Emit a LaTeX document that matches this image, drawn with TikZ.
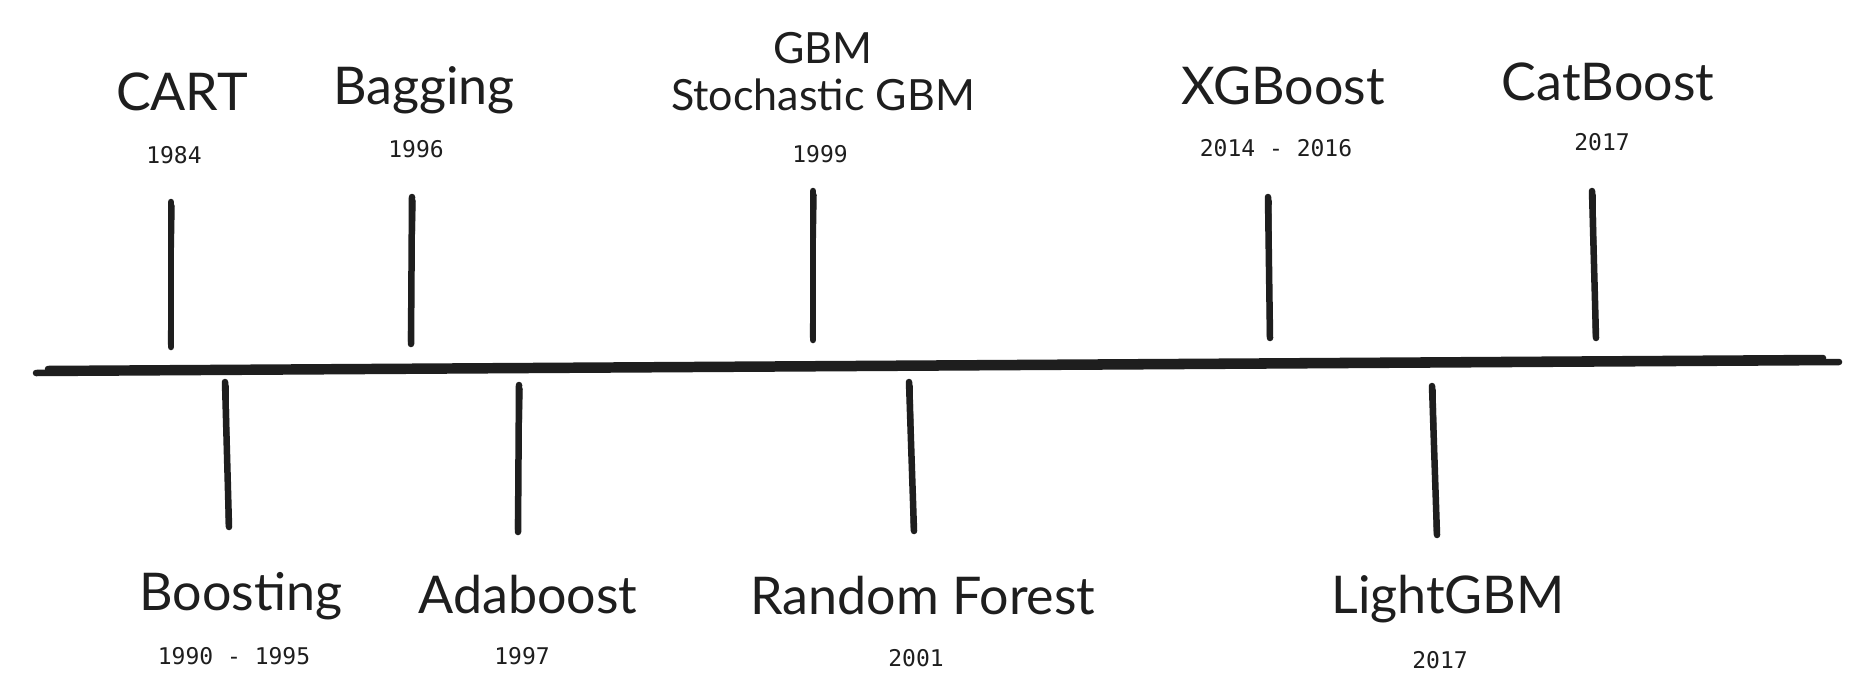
\documentclass[tikz,border=0pt]{standalone}
\usepackage{fontspec}
\setmainfont{Lato}
\newfontfamily\yearfont{DejaVu Sans Mono}
\definecolor{ink}{HTML}{1E1E1E}
\begin{document}
\begin{tikzpicture}[x=1pt,y=-1pt,
  stroke/.style={draw=ink,line width=6.5pt,line cap=round},
  thin stroke/.style={draw=ink,line width=4.5pt,line cap=round},
  title/.style={font=\fontsize{52}{56}\selectfont,text=ink,inner sep=0pt,anchor=center},
  small title/.style={font=\fontsize{43}{46}\selectfont,text=ink,inner sep=0pt,anchor=center},
  year/.style={font=\yearfont\fontsize{23}{26}\selectfont,text=ink,inner sep=0pt,anchor=center}]
\useasboundingbox[fill=white] (0,0) rectangle (1872,683);

% main axis
\coordinate (axL1) at (48,369);
\coordinate (axR1) at (1823,358);
\coordinate (axL2) at (36,373);
\coordinate (axR2) at (1839,362);
\draw[stroke] (axL1) -- (axR1);
\draw[stroke] (axL2) -- (axR2);

% ticks above
\coordinate (cartT) at (171,202);   \coordinate (cartB) at (171,347);
\coordinate (bagT) at (412,197);    \coordinate (bagB) at (411,344);
\coordinate (gbmT) at (813,191);    \coordinate (gbmB) at (813,340);
\coordinate (xgbT) at (1268,197);   \coordinate (xgbB) at (1270,338);
\coordinate (catT) at (1592,191);   \coordinate (catB) at (1596,338);
% ticks below
\coordinate (booT) at (225,382);    \coordinate (booB) at (229,527);
\coordinate (adaT) at (519,385);    \coordinate (adaB) at (518,532);
\coordinate (rfT) at (909,382);     \coordinate (rfB) at (914,531);
\coordinate (lgbT) at (1432,386);   \coordinate (lgbB) at (1437,535);

\foreach \t/\b in {cartT/cartB,bagT/bagB,gbmT/gbmB,xgbT/xgbB,catT/catB,booT/booB,adaT/adaB,rfT/rfB,lgbT/lgbB}{
  \draw[stroke] (\t) -- (\b);
  \draw[thin stroke] ([shift={(1.5,4)}]\t) -- ([shift={(-1,-3)}]\b);
}

% labels above
\node[title] (cart) at (182,92) {CART};
\node[year]  (cartY) at (174,155) {1984};
\node[title] (bag) at (424,90) {Bagging};
\node[year]  (bagY) at (416,149) {1996};
\node[small title] (gbm) at (823,48) {GBM};
\node[small title] (sgbm) at (823,95) {Stochastic GBM};
\node[year]  (gbmY) at (820,154) {1999};
\node[title] (xgb) at (1283,86) {XGBoost};
\node[year]  (xgbY) at (1276,148) {2014 - 2016};
\node[title] (cat) at (1608,82) {CatBoost};
\node[year]  (catY) at (1602,142) {2017};

% labels below
\node[title] (boo) at (241,596) {Boosting};
\node[year]  (booY) at (234,656) {1990 - 1995};
\node[title] (ada) at (528,595) {Adaboost};
\node[year]  (adaY) at (522,656) {1997};
\node[title] (rf) at (923,596) {Random Forest};
\node[year]  (rfY) at (916,658) {2001};
\node[title] (lgb) at (1448,599) {LightGBM};
\node[year]  (lgbY) at (1440,660) {2017};
\end{tikzpicture}
\end{document}
